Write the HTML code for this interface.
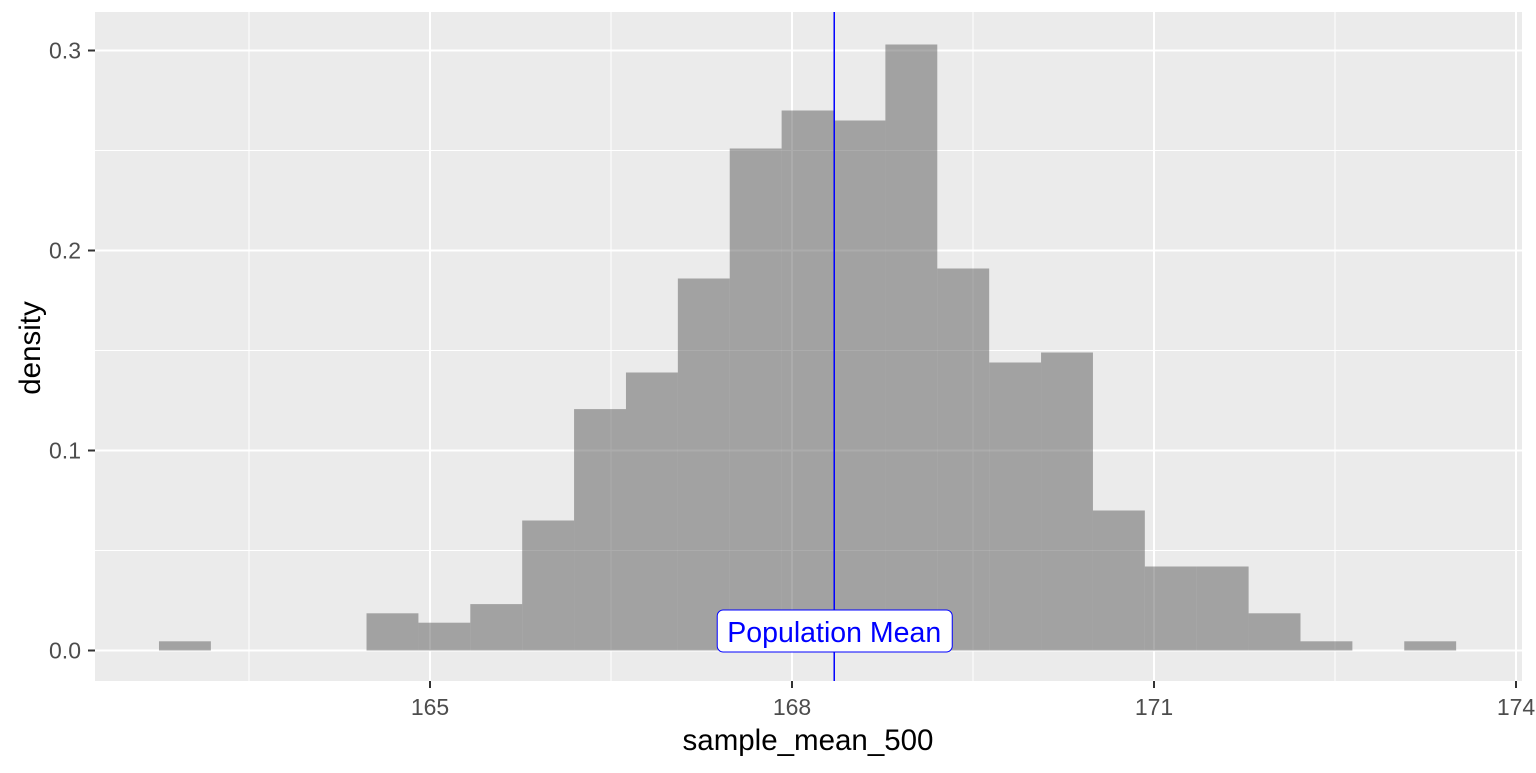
<!DOCTYPE html>
<html><head><meta charset="utf-8"><style>
body{margin:0;background:#fff;}
svg text{font-family:"Liberation Sans",Arial,sans-serif;}
</style></head><body>
<svg id="chart" width="1536" height="768" xmlns="http://www.w3.org/2000/svg">
<rect x="95" y="12" width="1427" height="669" fill="#EBEBEB"/>
<g id="grid"></g>
<g id="bars"></g>
<g id="axes"></g>
<text x="808" y="750" font-size="29.5" text-anchor="middle" fill="#000">sample_mean_500</text>
<text transform="translate(40,348) rotate(-90)" font-size="29.5" text-anchor="middle" fill="#000">density</text>
</svg>
<script>
const binStart = 162.754;
const binWidth = 0.43;
const densities = [0.0046,0,0,0,0.0186,0.0139,0.0232,0.065,0.1207,0.139,0.186,0.251,0.270,0.265,0.303,0.191,0.144,0.149,0.070,0.042,0.042,0.0186,0.0046,0,0.0046];
const xTicks = [165,168,171,174];
const xMinor = [163.5,166.5,169.5,172.5];
const yTicks = [0,0.1,0.2,0.3];
const yTickLabels = ["0.0","0.1","0.2","0.3"];
const yMinor = [0.05,0.15,0.25];
const popMean = 168.35;
const popLabel = "Population Mean";

const NS="http://www.w3.org/2000/svg";
function X(v){return 430+(v-165)*120.667;}
function Y(v){return 650.5-v*2000;}
function mk(tag,attrs,parent){const e=document.createElementNS(NS,tag);for(const k in attrs)e.setAttribute(k,attrs[k]);parent.appendChild(e);return e;}
const grid=document.getElementById('grid'),bars=document.getElementById('bars'),axes=document.getElementById('axes'),svg=document.getElementById('chart');
xMinor.forEach(v=>{const l=mk('line',{x1:X(v),x2:X(v),y1:12,y2:681,stroke:'#fff','stroke-width':1},grid);

});
yMinor.forEach(v=>{const l=mk('line',{x1:95,x2:1522,y1:Y(v),y2:Y(v),stroke:'#fff','stroke-width':1},grid);

});
xTicks.forEach(v=>{const l=mk('line',{x1:X(v),x2:X(v),y1:12,y2:681,stroke:'#fff','stroke-width':2},grid);


const t=mk('line',{x1:X(v),x2:X(v),y1:681,y2:688,stroke:'#333','stroke-width':2},axes);


const tx=mk('text',{x:X(v),y:715,'font-size':23,'text-anchor':'middle',fill:'#4D4D4D'},axes);tx.textContent=v;

});
yTicks.forEach((v,i)=>{const l=mk('line',{x1:95,x2:1522,y1:Y(v),y2:Y(v),stroke:'#fff','stroke-width':2},grid);


const t=mk('line',{x1:88,x2:95,y1:Y(v),y2:Y(v),stroke:'#333','stroke-width':2},axes);


const tx=mk('text',{x:81,y:Y(v)+8,'font-size':23,'text-anchor':'end',fill:'#4D4D4D'},axes);tx.textContent=yTickLabels[i];

});
densities.forEach((d,i)=>{if(d<=0)return;const x0=X(binStart+i*binWidth),x1=X(binStart+(i+1)*binWidth);
const r=mk('rect',{x:x0,y:Y(d),width:x1-x0,height:Y(0)-Y(d),fill:'#595959','fill-opacity':0.5},bars);

});
const vl=mk('line',{x1:X(popMean),x2:X(popMean),y1:12,y2:681,stroke:'#0000FF','stroke-width':1.5},svg);


const bx=mk('rect',{x:X(popMean)-117,y:610,width:235,height:42,rx:6,fill:'#fff',stroke:'#0000FF','stroke-width':1},svg);


const lt=mk('text',{x:X(popMean),y:642,'font-size':28.5,'text-anchor':'middle',fill:'#0000FF'},svg);lt.textContent=popLabel;


</script>
</body></html>
